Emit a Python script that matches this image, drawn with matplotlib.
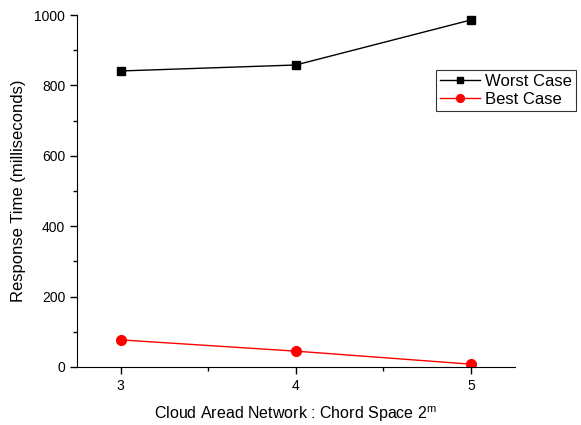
import matplotlib
matplotlib.use("Agg")
import matplotlib.pyplot as plt
from matplotlib.ticker import MultipleLocator

plt.rcParams['font.family'] = ['Liberation Sans', 'DejaVu Sans']

# data
chordExp = [3, 4, 5]
worstCase = [841, 858, 986]
bestCase = [77, 45, 8]

fig = plt.figure(figsize=(5.81, 4.25), dpi=100)
ax = fig.add_axes([0.1325, 0.1365, 0.7535, 0.8282])

ax.plot(chordExp, worstCase, color='black', lw=1, marker='s', ms=6, label='Worst Case')
ax.plot(chordExp, bestCase, color='red', lw=1, marker='o', ms=7, label='Best Case')

ax.set_xlim(2.75, 5.25)
ax.set_ylim(0, 1000)
ax.set_xticks(chordExp)
ax.set_yticks([0, 200, 400, 600, 800, 1000])
ax.xaxis.set_minor_locator(MultipleLocator(0.5))
ax.yaxis.set_minor_locator(MultipleLocator(100))

ax.spines['top'].set_visible(False)
ax.spines['right'].set_visible(False)
ax.tick_params(which='major', direction='out', length=5, width=1, labelsize=10, colors='black')
ax.tick_params(which='minor', direction='out', length=3, width=1)

ax.set_xlabel('Cloud Aread Network : Chord Space 2$^{\\mathregular{m}}$', fontsize=11.5, labelpad=8)
ax.set_ylabel('Response Time (milliseconds)', fontsize=12, labelpad=6)

leg = ax.legend(loc='upper left', bbox_to_anchor=(436 / 581, 1 - 70 / 425),
                bbox_transform=fig.transFigure, fontsize=12, frameon=True, fancybox=False,
                borderpad=0.25, handlelength=2.4, handletextpad=0.3, labelspacing=0.15,
                borderaxespad=0, markerscale=0.8)
leg.get_frame().set_edgecolor('black')
leg.get_frame().set_linewidth(0.8)

fig.savefig('out.png', dpi=100)
